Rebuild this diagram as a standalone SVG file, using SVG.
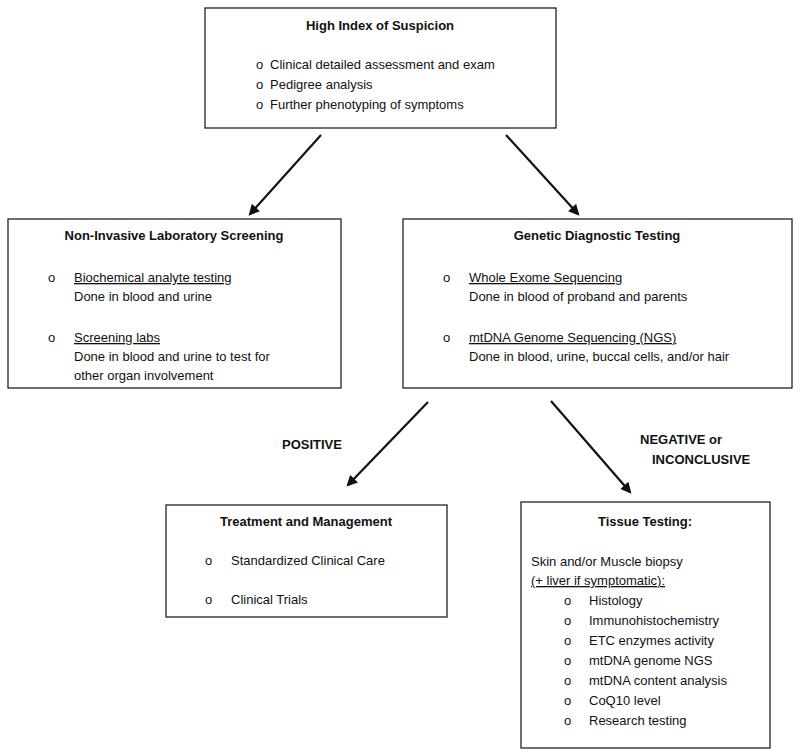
<svg xmlns="http://www.w3.org/2000/svg" width="800" height="755" viewBox="0 0 800 755">
<style>
text{font-family:"Liberation Sans",Arial,sans-serif;font-size:13px;fill:#111}
.t{font-weight:bold;text-anchor:middle}
.b{font-weight:bold}
.u{text-decoration:underline}
rect{fill:#fff;stroke:#222;stroke-width:1.3}
.c line{stroke:#111;stroke-width:2.2}
</style>
<defs><marker id="a" viewBox="0 0 10 10" refX="8" refY="5" markerWidth="5" markerHeight="5" orient="auto"><path d="M0,0L10,5L0,10z" fill="#111"/></marker></defs>
<rect width="800" height="755" style="stroke:none"/>
<g id="n1"><rect x="205" y="8" width="351" height="120"/>
<text class="t" x="380" y="30">High Index of Suspicion</text>
<text x="256" y="69">o</text><text x="270" y="69">Clinical detailed assessment and exam</text>
<text x="256" y="89">o</text><text x="270" y="89">Pedigree analysis</text>
<text x="256" y="109">o</text><text x="270" y="109">Further phenotyping of symptoms</text></g>
<g id="n2"><rect x="8" y="219" width="333" height="169"/>
<text class="t" x="174" y="240">Non-Invasive Laboratory Screening</text>
<text x="48" y="282">o</text><text class="u" x="74" y="282">Biochemical analyte testing</text>
<text x="74" y="301">Done in blood and urine</text>
<text x="48" y="342">o</text><text class="u" x="74" y="342">Screening labs</text>
<text x="74" y="361">Done in blood and urine to test for</text>
<text x="74" y="380">other organ involvement</text></g>
<g id="n3"><rect x="403" y="219" width="389" height="169"/>
<text class="t" x="597" y="240">Genetic Diagnostic Testing</text>
<text x="443" y="282">o</text><text class="u" x="469" y="282">Whole Exome Sequencing</text>
<text x="469" y="301">Done in blood of proband and parents</text>
<text x="443" y="342">o</text><text class="u" x="469" y="342">mtDNA Genome Sequencing (NGS)</text>
<text x="469" y="361">Done in blood, urine, buccal cells, and/or hair</text></g>
<g id="n4"><rect x="166" y="505" width="281" height="112"/>
<text class="t" x="306" y="526">Treatment and Management</text>
<text x="205" y="565">o</text><text x="231" y="565">Standardized Clinical Care</text>
<text x="205" y="604">o</text><text x="231" y="604">Clinical Trials</text></g>
<g id="n5"><rect x="521" y="502" width="249" height="246"/>
<text class="t" x="645" y="526">Tissue Testing:</text>
<text x="531" y="566">Skin and/or Muscle biopsy</text>
<text class="u" x="531" y="585">(+ liver if symptomatic):</text>
<text x="564" y="605">o</text><text x="589" y="605">Histology</text>
<text x="564" y="625">o</text><text x="589" y="625">Immunohistochemistry</text>
<text x="564" y="645">o</text><text x="589" y="645">ETC enzymes activity</text>
<text x="564" y="665">o</text><text x="589" y="665">mtDNA genome NGS</text>
<text x="564" y="685">o</text><text x="589" y="685">mtDNA content analysis</text>
<text x="564" y="705">o</text><text x="589" y="705">CoQ10 level</text>
<text x="564" y="725">o</text><text x="589" y="725">Research testing</text></g>
<g class="c">
<line x1="321" y1="135" x2="250" y2="214" marker-end="url(#a)"/>
<line x1="506" y1="135" x2="578" y2="214" marker-end="url(#a)"/>
<line x1="428" y1="402" x2="348" y2="485" marker-end="url(#a)"/>
<line x1="551" y1="401" x2="630" y2="492" marker-end="url(#a)"/>
</g>
<text class="b" x="282" y="449">POSITIVE</text>
<text class="b" x="640" y="444">NEGATIVE or</text>
<text class="b" x="652" y="464">INCONCLUSIVE</text>
</svg>
